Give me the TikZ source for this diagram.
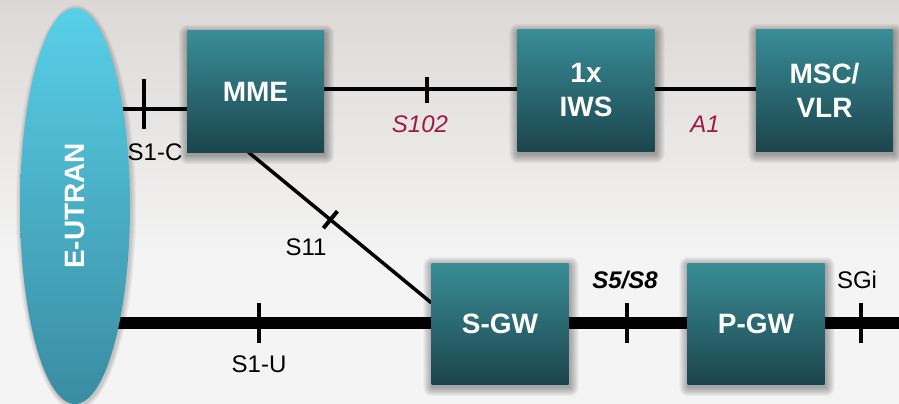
\documentclass[tikz,border=0pt]{standalone}
\usepackage{fontspec}
\setmainfont{Liberation Sans}
\usetikzlibrary{shapes.geometric,calc}
\pgfdeclarelayer{back}
\pgfdeclarelayer{bg}
\pgfsetlayers{back,bg,main}
\definecolor{bgtop}{HTML}{DCD8D5}
\definecolor{bgbot}{HTML}{F4F4F4}
\definecolor{boxtop}{HTML}{398D97}
\definecolor{boxbot}{HTML}{1C454D}
\definecolor{elltop}{HTML}{58D0E8}
\definecolor{ellbot}{HTML}{3A8CA2}
\definecolor{crimson}{HTML}{A0174A}
\tikzset{
  box/.style={rectangle, minimum width=137pt, minimum height=121pt, inner sep=0pt,
    top color=boxtop, bottom color=boxbot, text=white, align=center,
    font=\bfseries\fontsize{28}{34}\selectfont},
  lbl/.style={font=\fontsize{24}{28}\selectfont, anchor=base, inner sep=0pt, text=black},
  redlbl/.style={lbl, text=crimson, font=\itshape\fontsize{24}{28}\selectfont},
  thinline/.style={line width=3.5pt, black},
  bearer/.style={line width=12pt, black},
  tk/.style={line width=4pt, black}
}
\begin{document}
\begin{tikzpicture}[x=1pt,y=-1pt]
\useasboundingbox (0,0) rectangle (899,404);

% nodes
\node[ellipse, minimum width=110pt, minimum height=396pt, inner sep=0pt,
      top color=elltop, bottom color=ellbot, text=white,
      font=\bfseries\fontsize{28}{34}\selectfont]
      (ell) at (75,206) {\rotatebox{90}{E-UTRAN}};
\node[box] (MME) at (255.5,91.5) {MME};
\node[box] (IWS) at (586,90.5) {1x\\IWS};
\node[box] (MSC) at (824.5,90.5) {MSC/\\VLR};
\node[box] (SGW) at (500,323.5) {S-GW};
\node[box] (PGW) at (756,323.5) {P-GW};

\begin{pgfonlayer}{back}
  \fill[bgbot] (0,0) rectangle (899,404);
  \shade[top color=bgtop, bottom color=bgbot] (0,0) rectangle (899,260);
  \foreach \k in {1,...,5}{
    \fill[black, opacity=0.04] (76,208) ellipse [x radius=55+\k, y radius=198+\k];
  }
  \foreach \n in {MME,IWS,MSC,SGW,PGW}{
    \foreach \k in {1,...,9}{
      \fill[black, opacity=0.04, rounded corners=\k pt]
        ($(\n.south west)+(1-\k,3+\k)$) rectangle ($(\n.north east)+(1+\k,3-\k)$);
    }
  }
\end{pgfonlayer}

% helper coordinates
\coordinate (yS1C) at (0,109);
\coordinate (yTop) at (0,89);
\coordinate (yBot) at (0,323);
\coordinate (rEnd) at (899,323);
\coordinate (s11a) at ($(MME.south)+(-7,0)$);
\coordinate (s11b) at ($(SGW.north west)+(0,40)$);
\coordinate (s11t) at ($(s11a)!0.448!(s11b)$);

\begin{pgfonlayer}{bg}
  \draw[thinline] (ell.center |- yS1C) -- (MME.west |- yS1C);
  \draw[thinline] (MME.east |- yTop) -- (IWS.west |- yTop);
  \draw[thinline] (IWS.east |- yTop) -- (MSC.west |- yTop);
  \draw[line width=3.5pt] (s11a) -- (s11b);
  \draw[bearer] (ell.center |- yBot) -- (SGW.west |- yBot);
  \draw[bearer] (SGW.east |- yBot) -- (PGW.west |- yBot);
  \draw[bearer] (PGW.east |- yBot) -- (rEnd);
\end{pgfonlayer}

% ticks
\draw[tk] (144,79) -- (144,129);
\draw[tk] (427,77) -- (427,103);
\draw[tk] ($(s11t)!11pt!90:(s11b)$) -- ($(s11t)!11pt!-90:(s11b)$);
\draw[tk] (259,303) -- (259,343);
\draw[tk] (627,303) -- (627,343);
\draw[tk] (861,303) -- (861,343);

% labels
\node[lbl] (lS1C) at (155,160) {S1-C};
\node[redlbl] (lS102) at (420,132) {S102};
\node[redlbl] (lA1) at (705,132) {A1};
\node[lbl] (lS11) at (306,255) {S11};
\node[lbl] (lS1U) at (259,372) {S1-U};
\node[lbl, font=\bfseries\itshape\fontsize{24}{28}\selectfont] (lS5) at (625,288) {S5/S8};
\node[lbl] (lSGi) at (857,288) {SGi};
\end{tikzpicture}
\end{document}
